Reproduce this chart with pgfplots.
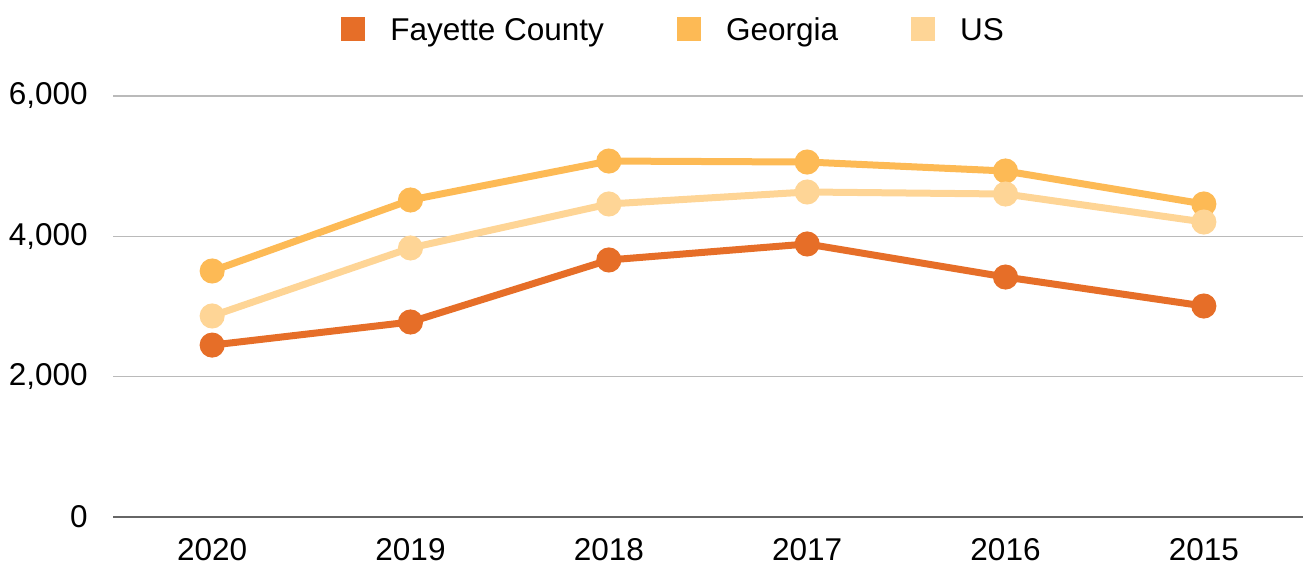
\documentclass[border=0pt]{standalone}
\usepackage{pgfplots}
\pgfplotsset{compat=1.18}
\usepackage{fontspec}
\setmainfont{Liberation Sans}
\definecolor{fay}{HTML}{E66E28}
\definecolor{geo}{HTML}{FDBA55}
\definecolor{us}{HTML}{FED596}
\begin{document}
\begin{tikzpicture}
\begin{axis}[
 scale only axis, width=595pt, height=210.5pt,
 xmin=-0.5, xmax=5.5, ymin=0, ymax=6000,
 xtick={0,...,5}, xticklabels={2020,2019,2018,2017,2016,2015},
 ytick={0,2000,4000,6000},
 ymajorgrids, grid style={color=black!27, line width=0.75pt},
 axis x line*=bottom, axis y line*=left,
 x axis line style={color=black!60, line width=0.75pt, -},
 y axis line style={draw=none},
 major tick length=0pt,
 tick label style={font=\fontsize{15.75}{18}\selectfont},
 /pgf/number format/assume math mode=true,
 /pgf/number format/1000 sep={,},
 yticklabel style={inner sep=0pt, xshift=-12.5pt},
 xticklabel style={inner sep=0pt, yshift=-10.5pt},
 every axis plot/.append style={line width=3.5pt, mark=*, mark size=4.5pt, mark options={solid}},
 legend columns=3,
 legend image code/.code={\fill[#1, draw=none] (0pt,-6pt) rectangle (12pt,6pt);},
 legend style={at={(rel axis cs:0.1916,1.158)}, anchor=west, draw=none, fill=none,
   inner sep=0pt, font=\fontsize{15.75}{18}\selectfont,
   nodes={inner sep=0pt, text height=11.3pt, text depth=0.75pt},
   /tikz/every odd column/.append style={column sep=12.5pt},
   /tikz/every even column/.append style={column sep=36.5pt}},
]
\addplot[color=fay] coordinates {(0,2450) (1,2779) (2,3663) (3,3891) (4,3420) (5,3007)};
\addlegendentry{Fayette County}
\addplot[color=geo] coordinates {(0,3506) (1,4518) (2,5073) (3,5059) (4,4931) (5,4461)};
\addlegendentry{Georgia}
\addplot[color=us] coordinates {(0,2865) (1,3834) (2,4461) (3,4632) (4,4603) (5,4204)};
\addlegendentry{US}
\coordinate (O) at (rel axis cs:0,0);
\coordinate (T) at (rel axis cs:1,1);
\end{axis}
\pgfresetboundingbox
\path ([shift={(-56.5pt,-24.5pt)}]O) rectangle ([shift={(1pt,48pt)}]T);
\end{tikzpicture}
\end{document}
